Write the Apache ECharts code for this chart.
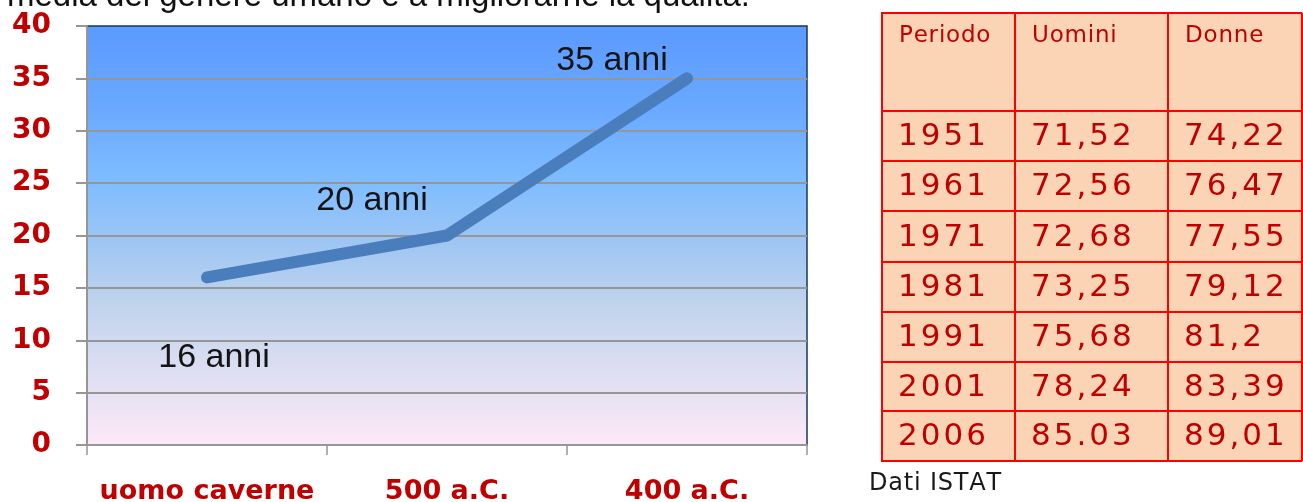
<!DOCTYPE html>
<html>
<head>
<meta charset="utf-8">
<script src="https://cdn.jsdelivr.net/npm/echarts@6/dist/echarts.min.js"></script>
<style>
html,body{margin:0;padding:0;background:#fff;}
#main{width:1303px;height:502px;}
</style>
</head>
<body>
<div id="main"></div>
<script>
// ---- data ----
const categories = ['uomo caverne', '500 a.C.', '400 a.C.'];
const lifeExpectancy = [16, 20, 35];
const pointLabels = ['16 anni', '20 anni', '35 anni'];
const yMin = 0, yMax = 40, yStep = 5;

const tableHeader = ['Periodo', 'Uomini', 'Donne'];
const periods = ['1951', '1961', '1971', '1981', '1991', '2001', '2006'];
const uomini = ['71,52', '72,56', '72,68', '73,25', '75,68', '78,24', '85.03'];
const donne = ['74,22', '76,47', '77,55', '79,12', '81,2', '83,39', '89,01'];

const topText = 'media del genere umano e a migliorarne la qualità.';
const sourceNote = 'Dati ISTAT';

// ---- layout / style ----
const RED = '#c00000';
const GRID_GREY = '#969696';
const labelOffsets = [[7, 80], [-75, -35], [-75, -18]];

const colX = [882, 1015, 1168, 1302];
const rowY = [13, 111, 161, 211, 262, 312, 362, 411, 461];

const measureCtx = document.createElement('canvas').getContext('2d');
// letter-spaced text: one text element per character, still real text
function spacedText(str, x, y, font, fill, spacing, z) {
  measureCtx.font = font;
  const els = [];
  let cx = x;
  for (const ch of str) {
    els.push({type: 'text', z: z, style: {x: cx, y: y, text: ch, fill: fill, font: font, verticalAlign: 'middle', align: 'left'}});
    cx += measureCtx.measureText(ch).width + spacing;
  }
  return els;
}

function buildTable() {
  let children = [];
  children.push({
    type: 'rect', shape: {x: colX[0], y: rowY[0], width: colX[3] - colX[0], height: rowY[rowY.length - 1] - rowY[0]},
    style: {fill: '#fad4b5'}, z: 1
  });
  rowY.forEach(y => children.push({
    type: 'line', shape: {x1: colX[0] - 1, y1: y, x2: colX[3], y2: y},
    style: {stroke: '#ff0000', lineWidth: 2}, z: 3
  }));
  colX.forEach(x => children.push({
    type: 'line', shape: {x1: x, y1: rowY[0], x2: x, y2: rowY[rowY.length - 1]},
    style: {stroke: '#ff0000', lineWidth: 2}, z: 3
  }));
  tableHeader.forEach((t, c) => {
    children = children.concat(spacedText(t, colX[c] + 17, 36, '23px "DejaVu Sans"', RED, 0.8, 4));
  });
  const cols = [periods, uomini, donne];
  periods.forEach((p, r) => {
    const cy = (rowY[r + 1] + rowY[r + 2]) / 2 + 1;
    cols.forEach((arr, c) => {
      children = children.concat(spacedText(arr[r], colX[c] + 16, cy, '31px "DejaVu Sans"', RED, 3, 4));
    });
  });
  return children;
}

const chart = echarts.init(document.getElementById('main'), null, {renderer: 'canvas'});
chart.setOption({
  animation: false,
  backgroundColor: '#ffffff',
  grid: {
    left: 87, right: 496, top: 26, bottom: 57,
    containLabel: false,
    outerBoundsMode: 'none',
    show: true,
    borderColor: '#17375e', borderWidth: 1.5,
    backgroundColor: new echarts.graphic.LinearGradient(0, 0, 0, 1, [
      {offset: 0, color: '#5b9aff'},
      {offset: 0.2, color: '#6aa9ff'},
      {offset: 0.38, color: '#80bdff'},
      {offset: 0.52, color: '#9fc6f3'},
      {offset: 0.66, color: '#c0d3ec'},
      {offset: 0.8, color: '#d9ddf1'},
      {offset: 1, color: '#fde9f7'}
    ])
  },
  xAxis: {
    type: 'category',
    data: categories,
    boundaryGap: true,
    axisLine: {lineStyle: {color: GRID_GREY, width: 2}},
    axisTick: {show: true, interval: 0, length: 10, lineStyle: {color: GRID_GREY, width: 1.5}},
    axisLabel: {interval: 0, color: RED, fontWeight: 'bold', fontSize: 27, fontFamily: 'DejaVu Sans', margin: 33}
  },
  yAxis: {
    type: 'value',
    min: yMin, max: yMax, interval: yStep,
    axisLine: {show: true, lineStyle: {color: GRID_GREY, width: 2}},
    axisTick: {show: true, length: 11, lineStyle: {color: GRID_GREY, width: 2}},
    axisLabel: {color: RED, fontWeight: 'bold', fontSize: 28, fontFamily: 'DejaVu Sans', margin: 36},
    splitLine: {show: true, showMaxLine: false, lineStyle: {color: GRID_GREY, width: 2}}
  },
  series: [{
    type: 'line',
    data: lifeExpectancy.map((v, i) => ({
      value: v,
      label: {
        show: true, position: 'inside', offset: labelOffsets[i],
        formatter: pointLabels[i],
        color: '#141414', fontSize: 34, fontFamily: 'Liberation Sans'
      }
    })),
    symbol: 'circle',
    symbolSize: 1,
    showSymbol: true,
    itemStyle: {color: 'rgba(0,0,0,0)'},
    lineStyle: {color: '#4a7dbb', width: 12, cap: 'round', join: 'round'},
    z: 5
  }],
  graphic: [
    {type: 'text', style: {x: 7, y: -3, text: topText, fill: '#111', font: '33px "Liberation Sans"', verticalAlign: 'middle'}},
    {type: 'group', children: spacedText(sourceNote, 869, 484, '24px "DejaVu Sans"', '#1a1a1a', 0.8, 4)},
    {type: 'group', children: buildTable()}
  ]
});
</script>
</body>
</html>
